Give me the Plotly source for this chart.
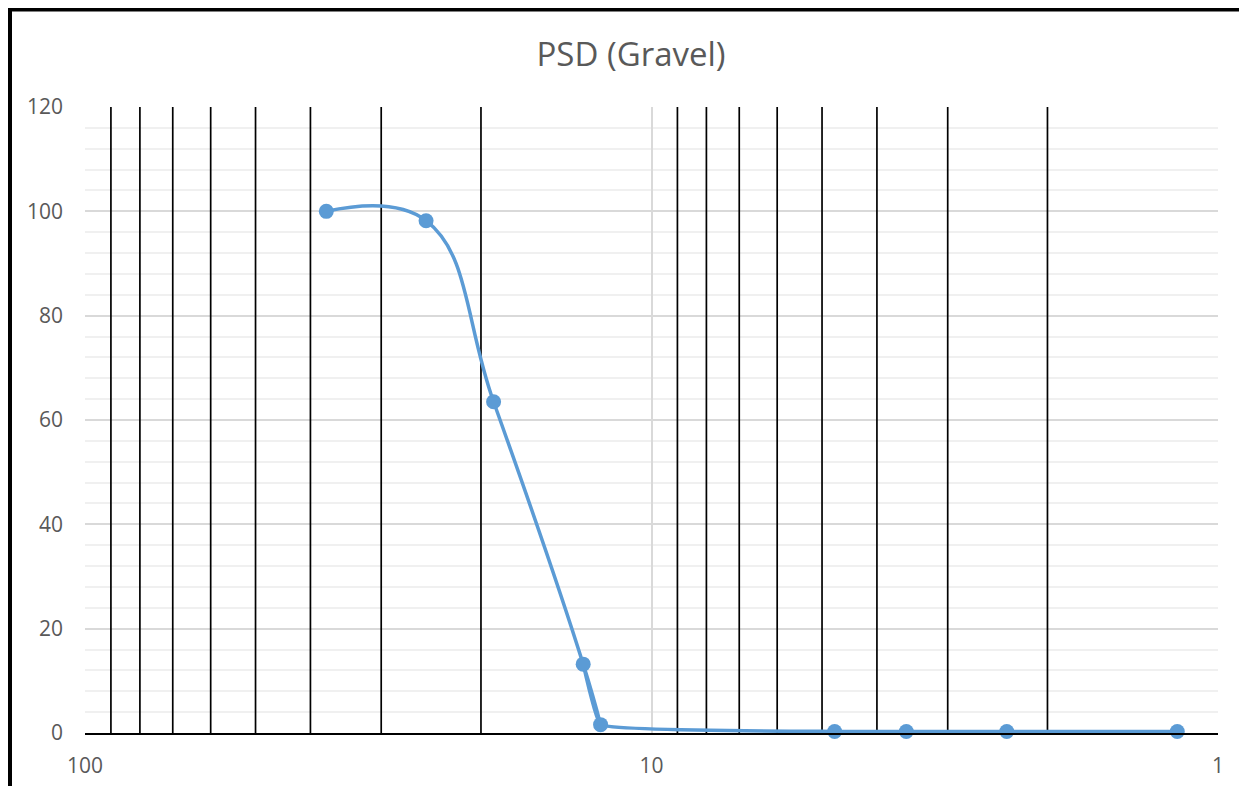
import plotly.graph_objects as go

# Sieve sizes (mm) and percent passing
sizes = [37.5, 25, 19, 13.2, 12.3, 4.75, 3.55, 2.36, 1.18]
passing = [100, 98.2, 63.5, 13.2, 1.6, 0.3, 0.3, 0.3, 0.3]

x_major_ticks = [100, 10, 1]
x_major_labels = ["100", "10", "1"]
x_minor_ticks = [90, 80, 70, 60, 50, 40, 30, 20, 9, 8, 7, 6, 5, 4, 3, 2]
y_range = [0, 120]

# page has an 8px body margin; figure sized to fit the window
OFF = 8
FW, FH = 1247 - 2 * OFF, 794 - 2 * OFF
L, R, T, B = 85, 1218, 107, 733  # plot area in page pixels
ml, mt = L - OFF, T - OFF
mr, mb = OFF + FW - R, OFF + FH - B
PW, PH = R - L, B - T


def px(x):
    return (x - L) / PW


def py(y):
    return (B - y) / PH


BLUE = "#5B9BD5"

fig = go.Figure()

# black vertical grid lines at the minor log positions (drawn above the horizontal grid)
gx, gy = [], []
for v in x_minor_ticks:
    gx += [v, v, None]
    gy += [y_range[0], y_range[1], None]
fig.add_trace(go.Scatter(
    x=gx, y=gy, mode="lines", line=dict(color="#000000", width=1.7),
    showlegend=False, hoverinfo="skip",
))

# smoothed curve drawn in two overlapping pieces
fig.add_trace(go.Scatter(
    x=sizes[:5], y=passing[:5], mode="lines",
    line=dict(color=BLUE, width=3.5, shape="spline", smoothing=1.2),
    showlegend=False, hoverinfo="skip",
))
fig.add_trace(go.Scatter(
    x=sizes[3:], y=passing[3:], mode="lines",
    line=dict(color=BLUE, width=3.5, shape="spline", smoothing=0.25),
    showlegend=False, hoverinfo="skip",
))
fig.add_trace(go.Scatter(
    x=sizes, y=passing, mode="markers",
    marker=dict(color=BLUE, size=15),
    cliponaxis=False, showlegend=False,
))

font = "Open Sans"
shapes = [
    dict(type="line", xref="paper", yref="paper",
         x0=px(10), x1=px(1260), y0=py(9.5), y1=py(9.5),
         line=dict(color="black", width=4), layer="above"),
    dict(type="line", xref="paper", yref="paper",
         x0=px(10), x1=px(10), y0=py(7.5), y1=py(800),
         line=dict(color="black", width=4), layer="above"),
]

fig.update_layout(
    width=FW, height=FH,
    margin=dict(l=ml, r=mr, t=mt, b=mb, autoexpand=False),
    paper_bgcolor="white", plot_bgcolor="white",
    title=dict(text="PSD (Gravel)", x=(631 - OFF) / FW, xanchor="center",
               y=1 - (54 - OFF) / FH, yanchor="middle",
               font=dict(family=font, size=33, color="#595959")),
    font=dict(family=font, color="#595959"),
    xaxis=dict(
        type="log", range=[2, 0],
        tickvals=x_major_ticks, ticktext=x_major_labels,
        tickfont=dict(size=21, color="#595959"),
        showgrid=True, gridcolor="#D9D9D9", gridwidth=1.5,
        showline=True, linecolor="#000000", linewidth=1.7,
        ticks="", ticklabelstandoff=13, zeroline=False,
    ),
    yaxis=dict(
        range=y_range, dtick=20, tick0=0,
        tickfont=dict(size=21, color="#595959"),
        showgrid=True, gridcolor="#D9D9D9", gridwidth=1.5,
        minor=dict(dtick=4, showgrid=True, gridcolor="#F0F0F0", gridwidth=1.5, ticks=""),
        showline=False, ticks="", ticklabelstandoff=21, zeroline=False,
    ),
    shapes=shapes,
)

fig.write_html("out.html")
